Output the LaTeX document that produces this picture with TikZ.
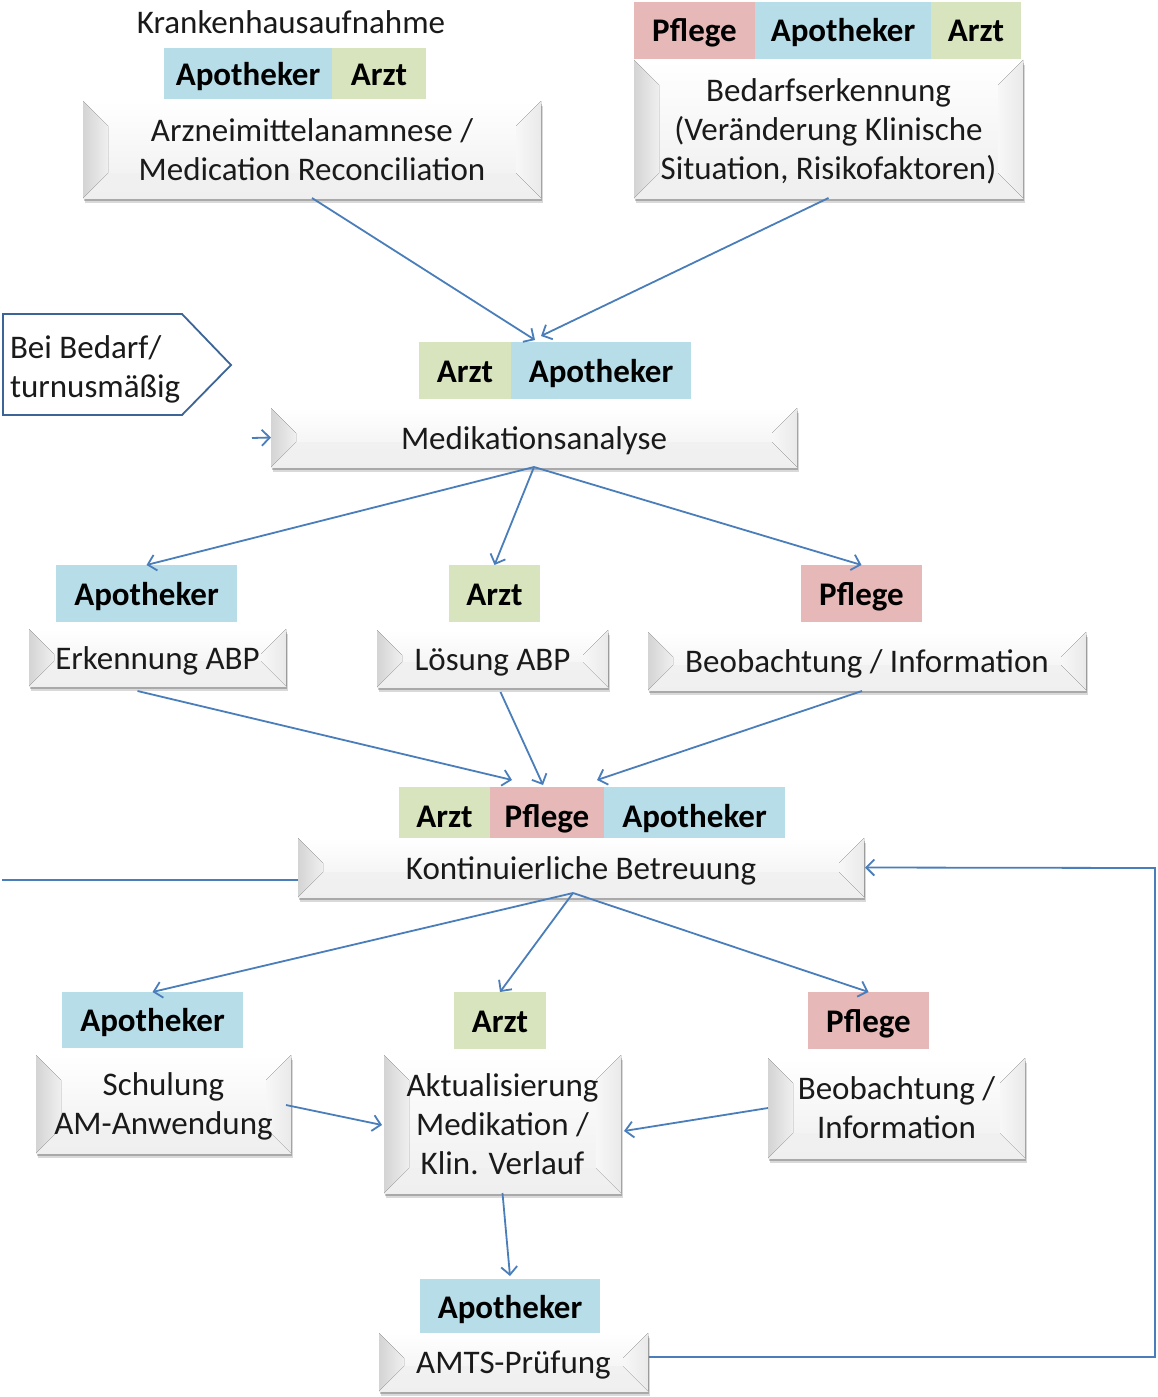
\documentclass[tikz,border=0pt]{standalone}
\usepackage{fontspec}
\setmainfont{Carlito}
\usetikzlibrary{calc,shadows,arrows.meta}
\definecolor{lblue}{HTML}{B7DDE8}
\definecolor{lgreen}{HTML}{D7E4BD}
\definecolor{lpink}{HTML}{E6B9B8}
\definecolor{conn}{HTML}{4A7EBB}
\definecolor{pent}{HTML}{3C6496}
\definecolor{txt}{HTML}{1A1A1A}
\begin{document}
\begin{tikzpicture}[x=1pt,y=-1pt,
 every node/.style={font=\fontsize{33}{39}\selectfont, text=txt, inner sep=0pt, outer sep=0pt},
 st/.style={execute at begin node={\rule[-7pt]{0pt}{37pt}}, execute at end node={\rule[-7pt]{0pt}{37pt}}},
 sz/.style 2 args={minimum width=#1pt, minimum height=#2pt},
 lab/.style={st, fill=#1, font=\fontsize{33}{39}\selectfont\bfseries, text=black},
 bevel/.style={align=center, top color=white, middle color=white, bottom color=gray!13,
   drop shadow={shadow xshift=2pt, shadow yshift=-5pt, opacity=0.15, fill=black},
   drop shadow={shadow xshift=1pt, shadow yshift=-3pt, opacity=0.22, fill=black},
   path picture={
     \fill[gray!12, opacity=0.7]
       (path picture bounding box.south west) -- ([shift={(25pt,25pt)}]path picture bounding box.south west)
       -- ([shift={(-25pt,25pt)}]path picture bounding box.south east) -- (path picture bounding box.south east) -- cycle;
     \fill[left color=gray!34, right color=gray!12]
       (path picture bounding box.north west) -- ([shift={(25pt,-25pt)}]path picture bounding box.north west)
       -- ([shift={(25pt,25pt)}]path picture bounding box.south west) -- (path picture bounding box.south west) -- cycle;
     \fill[left color=gray!6, right color=gray!17]
       (path picture bounding box.north east) -- ([shift={(-25pt,-25pt)}]path picture bounding box.north east)
       -- ([shift={(-25pt,25pt)}]path picture bounding box.south east) -- (path picture bounding box.south east) -- cycle;
   }},
 arr/.style={draw=conn, line width=1.8pt, -{Straight Barb[length=8pt,width=16pt]}},
 conline/.style={draw=conn, line width=1.8pt}]
\useasboundingbox (0,0) rectangle (1157,1397);
\fill[white] (0,0) rectangle (1157,1397);

% title
\node (title) at (291,22) {Krankenhausaufnahme};

% labels
\node[lab=lblue, sz={168}{51}] (L1a) at (248,73.5) {Apotheker};
\node[lab=lgreen, sz={94}{51}] (L1b) at (379,73.5) {Arzt};

\node[lab=lpink, sz={121}{57}] (L2a) at (694.5,30.5) {Pflege};
\node[lab=lblue, sz={176}{57}] (L2b) at (843,30.5) {Apotheker};
\node[lab=lgreen, sz={90}{57}] (L2c) at (976,30.5) {Arzt};

\node[lab=lgreen, sz={92}{57}] (L3a) at (465,370.5) {Arzt};
\node[lab=lblue, sz={180}{57}] (L3b) at (601,370.5) {Apotheker};

\node[lab=lblue, sz={181}{57}] (L4) at (146.5,593.5) {Apotheker};
\node[lab=lgreen, sz={91}{57}] (L5) at (494.5,593.5) {Arzt};
\node[lab=lpink, sz={121}{57}] (L6) at (861.5,593.5) {Pflege};

\node[lab=lgreen, sz={91}{58}] (L7a) at (444.5,816) {Arzt};
\node[lab=lpink, sz={114}{58}] (L7b) at (547,816) {Pflege};
\node[lab=lblue, sz={181}{58}] (L7c) at (694.5,816) {Apotheker};

\node[lab=lblue, sz={181}{56}] (L8) at (152.5,1020) {Apotheker};
\node[lab=lgreen, sz={92}{57}] (L9) at (500,1020.5) {Arzt};
\node[lab=lpink, sz={121}{57}] (L10) at (868.5,1020.5) {Pflege};

\node[lab=lblue, sz={180}{56}] (L11) at (510,1307) {Apotheker};

% bevel boxes
\node[bevel, sz={458}{97}] (B1) at (312,149.5) {Arzneimittelanamnese /\\Medication Reconciliation};
\node[bevel, sz={389}{138}] (B2) at (828.5,129) {\rule{0pt}{27pt}Bedarfserkennung\\(Veränderung Klinische\\Situation, Risikofaktoren)};
\node[bevel, st, sz={526}{59}] (B3) at (534,437.5) {Medikationsanalyse};
\node[bevel, st, sz={257}{57}] (B4) at (157.5,657.5) {Erkennung ABP};
\node[bevel, st, sz={231}{57}] (B5) at (492.5,658.5) {Lösung ABP};
\node[bevel, st, sz={438}{58}] (B6) at (867,661) {Beobachtung / Information};
\node[bevel, st, sz={566}{59}] (B7) at (581,867.5) {Kontinuierliche Betreuung};
\node[bevel, sz={255}{98}] (B8) at (163.5,1104) {\rule{0pt}{27pt}Schulung\\AM-Anwendung};
\node[bevel, sz={237}{138}] (B9) at (502.5,1124) {Aktualisierung\\Medikation /\\Klin. Verlauf};
\node[bevel, sz={257}{100}] (B10) at (896.5,1108) {Beobachtung /\\Information};
\node[bevel, st, sz={269}{58}] (B11) at (513.5,1362) {AMTS-Prüfung};

% pentagon
\draw[pent, line width=1.8pt, fill=white] (3,314) -- (182,314) -- (231,365) -- (182,415) -- (3,415) -- cycle;
\node[anchor=west, align=left] (sig) at (10,369.5) {Bei Bedarf/\\turnusmäßig};

% connectors
\coordinate (pin) at (252,438);
\coordinate (lft) at (2,880);
\coordinate (fbk) at (1155,868);

\draw[arr] (B1.south) -- ($(L3b.north west)+(24,-2)$);
\draw[arr] (B2.south) -- ($(L3b.north west)+(30,-6)$);
\draw[arr] (pin) -- (B3.west);

\draw[arr] (B3.south) -- (L4.north);
\draw[arr] (B3.south) -- (L5.north);
\draw[arr] (B3.south) -- (L6.north);

\draw[arr] ($(B4.south)+(-20,5)$) -- ($(L7b.north)+(-35,-7)$);
\draw[arr] ($(B5.south)+(8,5)$) -- ($(L7b.north)+(-4,-2)$);
\draw[arr] ($(B6.south)+(-5,1)$) -- ($(L7b.north)+(50,-7)$);

\draw[conline] (lft) -- (lft -| B7.west);

\draw[arr] ($(B7.south)+(-8,-4)$) -- (L8.north);
\draw[arr] ($(B7.south)+(-8,-4)$) -- (L9.north);
\draw[arr] ($(B7.south)+(-8,-4)$) -- (L10.north);

\draw[arr] ($(B8.east)+(-5,1)$) -- ($(B9.west)+(-2,1)$);
\draw[arr] (B10.west) -- ($(B9.east)+(3,7)$);
\draw[arr] (B9.south) -- ($(L11.north)+(0,-3)$);

\draw[arr] ($(B11.east)+(1,-5)$) -| (fbk) -- ($(B7.east)+(1,0)$);
\end{tikzpicture}
\end{document}
